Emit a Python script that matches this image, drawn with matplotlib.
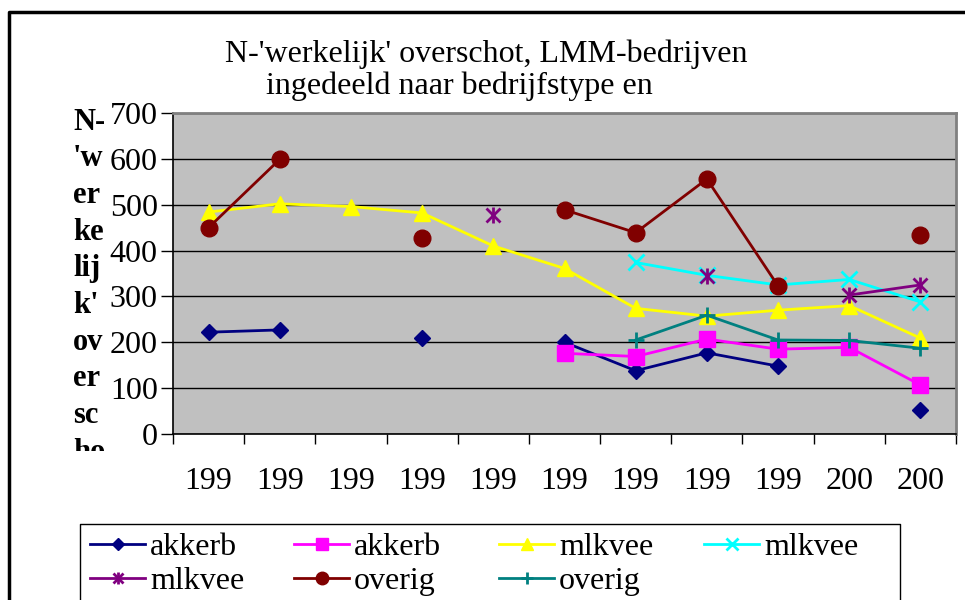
import numpy as np
import matplotlib
matplotlib.use("Agg")
import matplotlib.pyplot as plt
from matplotlib.lines import Line2D
from matplotlib.transforms import Bbox, Affine2D

nan = np.nan

# ---- data ----
years = ["199", "199", "199", "199", "199", "199", "199", "199", "199", "200", "200"]

akkerb_a = [222, 227, nan, 209, nan, 200, 138, 177, 148, nan, 53]
akkerb_b = [nan, nan, nan, nan, nan, 176, 169, 207, 185, 189, 107]
mlkvee_a = [484, 502, 496, 482, 410, 361, 274, 257, 270, 280, 209]
mlkvee_b = [nan, nan, nan, nan, nan, nan, 374, 346, 325, 337, 288]
mlkvee_c = [nan, nan, nan, nan, 477, nan, nan, 345, nan, 303, 325]
overig_a = [450, 599, nan, 428, nan, 489, 439, 556, 323, nan, 433]
overig_b = [nan, nan, nan, nan, nan, nan, 205, 259, 205, 204, 187]

title_lines = ["N-'werkelijk' overschot, LMM-bedrijven", "ingedeeld naar bedrijfstype en"]
ylabel_parts = ["N-", "'w", "er", "ke", "lij", "k'", "ov", "er", "sc", "ho"]

# (values, label, colour, marker, size) -- legend order is row by row
series = [
    (akkerb_a, "akkerb", "#000080", "D", 8),
    (akkerb_b, "akkerb", "#FF00FF", "s", 11),
    (mlkvee_a, "mlkvee", "#FFFF00", "^", 12),
    (mlkvee_b, "mlkvee", "#00FFFF", "x", 11),
    (mlkvee_c, "mlkvee", "#800080", "star", 10),
    (overig_a, "overig", "#800000", "o", 12),
    (overig_b, "overig", "#008080", "+", 12),
]

plt.rcParams["font.family"] = ["Liberation Serif", "DejaVu Serif"]
FS = 23

W, H = 965, 600
fig = plt.figure(figsize=(W / 100, H / 100), dpi=100)
fig.patch.set_facecolor("white")

# pixel coords (origin top-left) -> figure coords
px = Affine2D().scale(1 / W, -1 / H).translate(0, 1) + fig.transFigure

# plot area in pixel terms
left, right, top, bottom = 173, 956, 113, 434
ax = fig.add_axes([left / W, 1 - bottom / H, (right - left) / W, (bottom - top) / H])
ax.set_facecolor("#C0C0C0")

x = np.arange(len(years))


def draw(target, xs, ys, col, mk, ms, **kw):
    """Plot one series; Excel's 'star' marker is an x with a vertical bar."""
    if mk == "star":
        target.plot(xs, ys, color=col, lw=2, marker="x", ms=ms, mew=2, **kw)
        target.plot(xs, ys, color=col, lw=0, marker="|", ms=ms + 1, mew=2, **kw)
    elif mk in ("x", "+"):
        target.plot(xs, ys, color=col, lw=2, marker=mk, ms=ms, mew=2, **kw)
    else:
        target.plot(xs, ys, color=col, lw=2, marker=mk, ms=ms, **kw)


for vals, lab, col, mk, ms in series:
    draw(ax, x, vals, col, mk, ms, zorder=3)

ax.set_xlim(-0.5, len(years) - 0.5)
ax.set_ylim(0, 700)
ax.set_yticks(np.arange(0, 701, 100))
ax.yaxis.grid(True, color="black", lw=1)
ax.set_axisbelow(True)

ax.set_xticks(np.arange(-0.5, len(years), 1))
ax.set_xticklabels([])
ax.set_xticks(x, minor=True)
ax.set_xticklabels(years, minor=True, fontsize=FS)
ax.tick_params(axis="x", which="major", length=7, width=1, color="black", direction="out")
ax.tick_params(axis="x", which="minor", length=0, pad=24)
ax.tick_params(axis="y", length=9, width=1, pad=2, labelsize=FS, direction="out")

for s in ["top", "right"]:
    ax.spines[s].set_color("#808080")
    ax.spines[s].set_linewidth(2)
for s in ["left", "bottom"]:
    ax.spines[s].set_color("black")
    ax.spines[s].set_linewidth(1.2)

# title, two lines
fig.text(225, 62, title_lines[0], transform=px, fontsize=FS, ha="left", va="baseline")
fig.text(266, 94, title_lines[1], transform=px, fontsize=FS, ha="left", va="baseline")

# stacked y label, clipped at the bottom like the original
clip = Bbox.from_extents(0, H - 451, 170, H)
for i, part in enumerate(ylabel_parts):
    t = fig.text(73, 129.5 + 36.7 * i, part, transform=px, fontsize=22,
                 fontweight="bold", ha="left", va="baseline")
    t.set_clip_box(clip)
    t.set_clip_on(True)

# legend, drawn by hand so the columns keep Excel's equal widths
fig.add_artist(Line2D([80, 80, 900, 900], [610, 524, 524, 610], transform=px,
                      color="black", lw=1))
col_x = [90, 294, 499, 704]
row_y = [544, 578]
for k, (vals, lab, col, mk, ms) in enumerate(series):
    cx, ry = col_x[k % 4], row_y[k // 4]
    hx = np.array([cx, cx + 55])
    fig.add_artist(Line2D(hx, [ry, ry], transform=px, color=col, lw=2))
    if mk == "star":
        fig.add_artist(Line2D([cx + 27.5], [ry], transform=px, color=col, lw=0,
                              marker="x", ms=7, mew=2))
        fig.add_artist(Line2D([cx + 27.5], [ry], transform=px, color=col, lw=0,
                              marker="|", ms=8, mew=2))
    else:
        fig.add_artist(Line2D([cx + 27.5], [ry], transform=px, color=col, lw=0,
                              marker=mk, ms=max(ms - 3, 6),
                              mew=2 if mk in ("x", "+") else 1))
    fig.text(cx + 60, ry + 11, lab, transform=px, fontsize=FS, ha="left", va="baseline")

# outer chart frame (cropped on right and bottom)
fig.add_artist(Line2D([9, 9, W + 5], [H + 5, 12, 12], transform=px,
                      color="black", lw=2.5))

fig.savefig("out.png", dpi=100)
